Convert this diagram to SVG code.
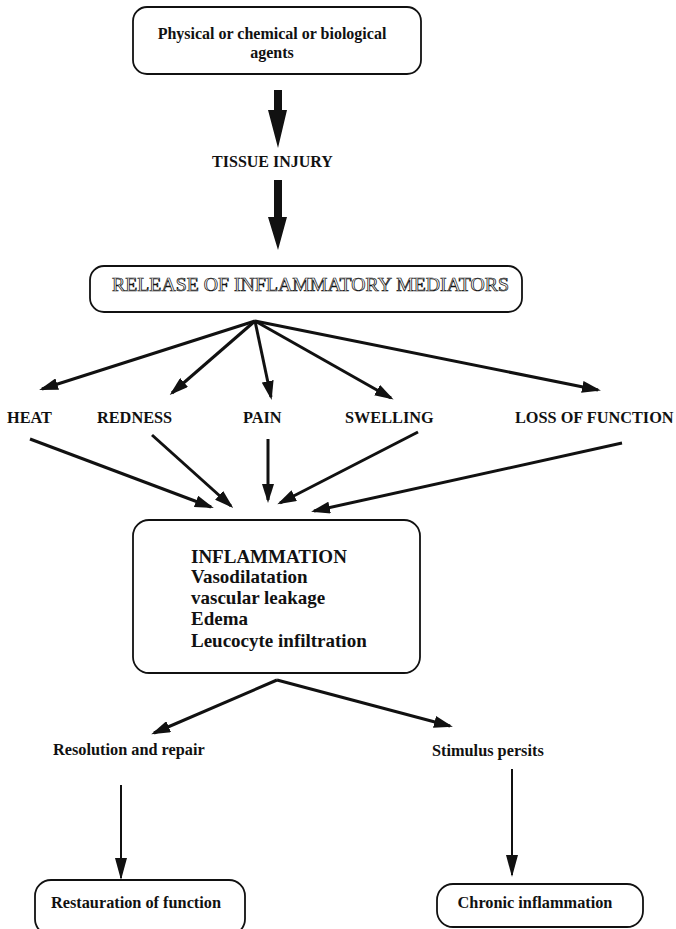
<svg xmlns="http://www.w3.org/2000/svg" width="676" height="929" viewBox="0 0 676 929">
<style>
.box{fill:#fff;stroke:#111;stroke-width:1.8}
.t{font-family:"Liberation Serif","Times New Roman",serif;font-weight:bold;fill:#111}
.lab{font-size:16.3px}
.big{font-size:19px}
.outl{font-family:"Liberation Serif","Times New Roman",serif;font-size:18px;fill:#fff;stroke:#111;stroke-width:0.7}
.c{stroke:#111;stroke-width:3;fill:none}
.c2{stroke:#111;stroke-width:2;fill:none}
.blk{fill:#111}
</style>
<defs>
<marker id="ah" markerUnits="userSpaceOnUse" markerWidth="19" markerHeight="12" refX="16" refY="6" orient="auto">
<path d="M0,0 L19,6 L0,12 z" fill="#111"/>
</marker>
<marker id="ah2" markerUnits="userSpaceOnUse" markerWidth="22" markerHeight="12" refX="20" refY="6" orient="auto">
<path d="M0,0 L22,6 L0,12 z" fill="#111"/>
</marker>
</defs>
<rect width="676" height="929" fill="#fff"/>

<g id="agents">
<rect class="box" x="133" y="7" width="288" height="67" rx="14"/>
<text class="t" font-size="16px" x="272" y="39" text-anchor="middle">Physical or chemical or biological</text>
<text class="t" font-size="16px" x="272" y="58" text-anchor="middle">agents</text>
</g>

<g id="tissue-injury">
<text class="t" font-size="16" x="272.5" y="167" text-anchor="middle">TISSUE INJURY</text>
</g>

<g id="mediators">
<rect class="box" x="90" y="266" width="432" height="46" rx="14"/>
<text class="outl" x="112" y="291" textLength="397" lengthAdjust="spacingAndGlyphs">RELEASE OF INFLAMMATORY MEDIATORS</text>
</g>

<g id="heat"><text class="t lab" x="7" y="423">HEAT</text></g>
<g id="redness"><text class="t lab" x="97" y="423">REDNESS</text></g>
<g id="pain"><text class="t lab" x="243" y="423">PAIN</text></g>
<g id="swelling"><text class="t lab" x="345" y="423">SWELLING</text></g>
<g id="loss-of-function"><text class="t lab" x="515" y="423">LOSS OF FUNCTION</text></g>

<g id="inflammation">
<rect class="box" x="133" y="520" width="287" height="153" rx="16"/>
<text class="t big" x="191" y="563">INFLAMMATION</text>
<text class="t big" x="191" y="583">Vasodilatation</text>
<text class="t big" x="191" y="604">vascular leakage</text>
<text class="t big" x="191" y="625">Edema</text>
<text class="t big" x="191" y="647">Leucocyte infiltration</text>
</g>

<g id="resolution"><text class="t lab" x="53" y="755">Resolution and repair</text></g>
<g id="stimulus"><text class="t lab" x="432" y="756">Stimulus persits</text></g>

<g id="restauration">
<rect class="box" x="35" y="880" width="210" height="55" rx="16"/>
<text class="t lab" x="136" y="908" text-anchor="middle">Restauration of function</text>
</g>

<g id="chronic">
<rect class="box" x="437" y="884" width="206" height="43" rx="16"/>
<text class="t lab" x="535" y="908" text-anchor="middle">Chronic inflammation</text>
</g>

<g id="connectors">
<polygon class="blk" points="274,90 282,90 282,110 287,110 278,148 268,110 274,110"/>
<polygon class="blk" points="274,180 282,180 282,217 287,217 278,250 268,217 274,217"/>
<line class="c" x1="255" y1="321" x2="42" y2="389" marker-end="url(#ah)"/>
<line class="c" x1="255" y1="321" x2="172" y2="393" marker-end="url(#ah)"/>
<line class="c" x1="255" y1="321" x2="271" y2="397" marker-end="url(#ah)"/>
<line class="c" x1="255" y1="321" x2="391" y2="398" marker-end="url(#ah)"/>
<line class="c" x1="255" y1="321" x2="598" y2="390" marker-end="url(#ah)"/>
<line class="c" x1="30" y1="439" x2="211" y2="507" marker-end="url(#ah)"/>
<line class="c" x1="152" y1="435" x2="231" y2="506" marker-end="url(#ah)"/>
<line class="c" x1="268" y1="439" x2="268" y2="500" marker-end="url(#ah)"/>
<line class="c" x1="418" y1="432" x2="280" y2="503" marker-end="url(#ah)"/>
<line class="c" x1="622" y1="443" x2="314" y2="511" marker-end="url(#ah)"/>
<line class="c" x1="277" y1="680" x2="154" y2="733" marker-end="url(#ah)"/>
<line class="c" x1="277" y1="680" x2="450" y2="726" marker-end="url(#ah)"/>
<line class="c2" x1="121" y1="785" x2="121" y2="878" marker-end="url(#ah2)"/>
<line class="c2" x1="512" y1="769" x2="512" y2="875" marker-end="url(#ah2)"/>
</g>
</svg>
